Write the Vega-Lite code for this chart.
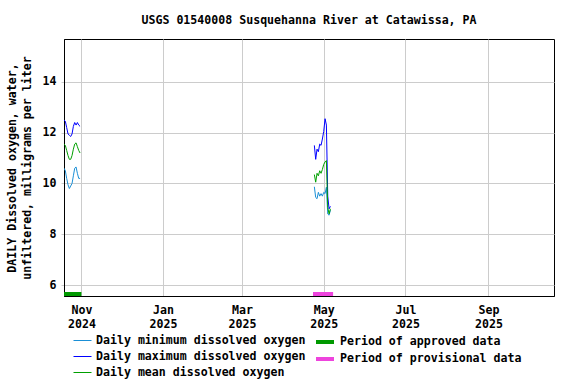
{
  "$schema": "https://vega.github.io/schema/vega-lite/v6.json",
  "width": 490,
  "height": 257,
  "autosize": {"type": "none"},
  "padding": {"left": 64, "top": 39, "right": 22, "bottom": 88},
  "background": "white",
  "title": {"text": "USGS 01540008 Susquehanna River at Catawissa, PA", "anchor": "middle", "fontSize": 11.6, "font": "DejaVu Sans Mono", "fontWeight": "bold", "offset": 12, "color": "black"},
  "config": {
    "font": "DejaVu Sans Mono",
    "view": {"stroke": "black", "strokeWidth": 1},
    "axis": {"labelFont": "DejaVu Sans Mono", "labelFontWeight": "bold", "labelFontSize": 11.6, "labelColor": "black", "titleFont": "DejaVu Sans Mono", "titleFontWeight": "bold", "titleFontSize": 11.6, "titleColor": "black", "domainColor": "black", "gridColor": "#cccccc", "tickColor": "#cccccc"},
    "legend": {"labelFont": "DejaVu Sans Mono", "labelFontWeight": "bold", "labelFontSize": 11.6, "labelColor": "black", "rowPadding": -2, "labelLimit": 400}
  },
  "datasets": {
    "oxygen": [
      {"date": "2024-10-19", "seg": 1, "series": "Daily minimum dissolved oxygen", "value": 10.6},
      {"date": "2024-10-20", "seg": 1, "series": "Daily minimum dissolved oxygen", "value": 10.5},
      {"date": "2024-10-21", "seg": 1, "series": "Daily minimum dissolved oxygen", "value": 10.2},
      {"date": "2024-10-22", "seg": 1, "series": "Daily minimum dissolved oxygen", "value": 9.95},
      {"date": "2024-10-23", "seg": 1, "series": "Daily minimum dissolved oxygen", "value": 9.8},
      {"date": "2024-10-24", "seg": 1, "series": "Daily minimum dissolved oxygen", "value": 9.9},
      {"date": "2024-10-25", "seg": 1, "series": "Daily minimum dissolved oxygen", "value": 10.0},
      {"date": "2024-10-26", "seg": 1, "series": "Daily minimum dissolved oxygen", "value": 10.3},
      {"date": "2024-10-27", "seg": 1, "series": "Daily minimum dissolved oxygen", "value": 10.6},
      {"date": "2024-10-28", "seg": 1, "series": "Daily minimum dissolved oxygen", "value": 10.65},
      {"date": "2024-10-29", "seg": 1, "series": "Daily minimum dissolved oxygen", "value": 10.4},
      {"date": "2024-10-30", "seg": 1, "series": "Daily minimum dissolved oxygen", "value": 10.2},
      {"date": "2024-10-31", "seg": 1, "series": "Daily minimum dissolved oxygen", "value": 10.2},
      {"date": "2025-04-24", "seg": 2, "series": "Daily minimum dissolved oxygen", "value": 9.87},
      {"date": "2025-04-25", "seg": 2, "series": "Daily minimum dissolved oxygen", "value": 9.45},
      {"date": "2025-04-26", "seg": 2, "series": "Daily minimum dissolved oxygen", "value": 9.4},
      {"date": "2025-04-27", "seg": 2, "series": "Daily minimum dissolved oxygen", "value": 9.65},
      {"date": "2025-04-28", "seg": 2, "series": "Daily minimum dissolved oxygen", "value": 9.5},
      {"date": "2025-04-29", "seg": 2, "series": "Daily minimum dissolved oxygen", "value": 9.6},
      {"date": "2025-04-30", "seg": 2, "series": "Daily minimum dissolved oxygen", "value": 9.5},
      {"date": "2025-05-01", "seg": 2, "series": "Daily minimum dissolved oxygen", "value": 9.65},
      {"date": "2025-05-02", "seg": 2, "series": "Daily minimum dissolved oxygen", "value": 9.6},
      {"date": "2025-05-03", "seg": 2, "series": "Daily minimum dissolved oxygen", "value": 9.85},
      {"date": "2025-05-04", "seg": 2, "series": "Daily minimum dissolved oxygen", "value": 8.8},
      {"date": "2025-05-05", "seg": 2, "series": "Daily minimum dissolved oxygen", "value": 8.75},
      {"date": "2025-05-06", "seg": 2, "series": "Daily minimum dissolved oxygen", "value": 8.95},
      {"date": "2024-10-19", "seg": 1, "series": "Daily maximum dissolved oxygen", "value": 12.5},
      {"date": "2024-10-20", "seg": 1, "series": "Daily maximum dissolved oxygen", "value": 12.45},
      {"date": "2024-10-21", "seg": 1, "series": "Daily maximum dissolved oxygen", "value": 12.2},
      {"date": "2024-10-22", "seg": 1, "series": "Daily maximum dissolved oxygen", "value": 11.95},
      {"date": "2024-10-23", "seg": 1, "series": "Daily maximum dissolved oxygen", "value": 11.9},
      {"date": "2024-10-24", "seg": 1, "series": "Daily maximum dissolved oxygen", "value": 11.85},
      {"date": "2024-10-25", "seg": 1, "series": "Daily maximum dissolved oxygen", "value": 11.95},
      {"date": "2024-10-26", "seg": 1, "series": "Daily maximum dissolved oxygen", "value": 12.25},
      {"date": "2024-10-27", "seg": 1, "series": "Daily maximum dissolved oxygen", "value": 12.4},
      {"date": "2024-10-28", "seg": 1, "series": "Daily maximum dissolved oxygen", "value": 12.3},
      {"date": "2024-10-29", "seg": 1, "series": "Daily maximum dissolved oxygen", "value": 12.4},
      {"date": "2024-10-30", "seg": 1, "series": "Daily maximum dissolved oxygen", "value": 12.3},
      {"date": "2024-10-31", "seg": 1, "series": "Daily maximum dissolved oxygen", "value": 12.25},
      {"date": "2025-04-24", "seg": 2, "series": "Daily maximum dissolved oxygen", "value": 11.5},
      {"date": "2025-04-25", "seg": 2, "series": "Daily maximum dissolved oxygen", "value": 10.95},
      {"date": "2025-04-26", "seg": 2, "series": "Daily maximum dissolved oxygen", "value": 11.35},
      {"date": "2025-04-27", "seg": 2, "series": "Daily maximum dissolved oxygen", "value": 11.25},
      {"date": "2025-04-28", "seg": 2, "series": "Daily maximum dissolved oxygen", "value": 11.55},
      {"date": "2025-04-29", "seg": 2, "series": "Daily maximum dissolved oxygen", "value": 11.5},
      {"date": "2025-04-30", "seg": 2, "series": "Daily maximum dissolved oxygen", "value": 11.75},
      {"date": "2025-05-01", "seg": 2, "series": "Daily maximum dissolved oxygen", "value": 12.05},
      {"date": "2025-05-02", "seg": 2, "series": "Daily maximum dissolved oxygen", "value": 12.55},
      {"date": "2025-05-03", "seg": 2, "series": "Daily maximum dissolved oxygen", "value": 12.3},
      {"date": "2025-05-04", "seg": 2, "series": "Daily maximum dissolved oxygen", "value": 9.5},
      {"date": "2025-05-05", "seg": 2, "series": "Daily maximum dissolved oxygen", "value": 9.0},
      {"date": "2025-05-06", "seg": 2, "series": "Daily maximum dissolved oxygen", "value": 9.1},
      {"date": "2024-10-19", "seg": 1, "series": "Daily mean dissolved oxygen", "value": 11.55},
      {"date": "2024-10-20", "seg": 1, "series": "Daily mean dissolved oxygen", "value": 11.5},
      {"date": "2024-10-21", "seg": 1, "series": "Daily mean dissolved oxygen", "value": 11.3},
      {"date": "2024-10-22", "seg": 1, "series": "Daily mean dissolved oxygen", "value": 11.1},
      {"date": "2024-10-23", "seg": 1, "series": "Daily mean dissolved oxygen", "value": 10.95},
      {"date": "2024-10-24", "seg": 1, "series": "Daily mean dissolved oxygen", "value": 10.95},
      {"date": "2024-10-25", "seg": 1, "series": "Daily mean dissolved oxygen", "value": 11.1},
      {"date": "2024-10-26", "seg": 1, "series": "Daily mean dissolved oxygen", "value": 11.35},
      {"date": "2024-10-27", "seg": 1, "series": "Daily mean dissolved oxygen", "value": 11.55},
      {"date": "2024-10-28", "seg": 1, "series": "Daily mean dissolved oxygen", "value": 11.6},
      {"date": "2024-10-29", "seg": 1, "series": "Daily mean dissolved oxygen", "value": 11.45},
      {"date": "2024-10-30", "seg": 1, "series": "Daily mean dissolved oxygen", "value": 11.3},
      {"date": "2024-10-31", "seg": 1, "series": "Daily mean dissolved oxygen", "value": 11.2},
      {"date": "2025-04-24", "seg": 2, "series": "Daily mean dissolved oxygen", "value": 10.35},
      {"date": "2025-04-25", "seg": 2, "series": "Daily mean dissolved oxygen", "value": 10.05},
      {"date": "2025-04-26", "seg": 2, "series": "Daily mean dissolved oxygen", "value": 10.4},
      {"date": "2025-04-27", "seg": 2, "series": "Daily mean dissolved oxygen", "value": 10.3},
      {"date": "2025-04-28", "seg": 2, "series": "Daily mean dissolved oxygen", "value": 10.5},
      {"date": "2025-04-29", "seg": 2, "series": "Daily mean dissolved oxygen", "value": 10.4},
      {"date": "2025-04-30", "seg": 2, "series": "Daily mean dissolved oxygen", "value": 10.55},
      {"date": "2025-05-01", "seg": 2, "series": "Daily mean dissolved oxygen", "value": 10.75},
      {"date": "2025-05-02", "seg": 2, "series": "Daily mean dissolved oxygen", "value": 10.85},
      {"date": "2025-05-03", "seg": 2, "series": "Daily mean dissolved oxygen", "value": 10.9},
      {"date": "2025-05-04", "seg": 2, "series": "Daily mean dissolved oxygen", "value": 9.05},
      {"date": "2025-05-05", "seg": 2, "series": "Daily mean dissolved oxygen", "value": 8.8},
      {"date": "2025-05-06", "seg": 2, "series": "Daily mean dissolved oxygen", "value": 9.0}
    ],
    "periods": [
      {"start": "2024-10-19", "end": "2024-11-01", "period": "Period of approved data", "level": 5.646},
      {"start": "2025-04-23", "end": "2025-05-08", "period": "Period of provisional data", "level": 5.646}
    ]
  },
  "layer": [
    {
      "data": {"name": "oxygen"},
      "mark": {"type": "line", "strokeWidth": 1, "clip": true},
      "encoding": {
        "x": {"field": "date", "type": "temporal",
              "scale": {"type": "utc", "domain": [{"year": 2024, "month": 10, "date": 19, "utc": true}, {"year": 2025, "month": 10, "date": 20, "utc": true}]},
              "axis": {"title": null, "grid": true, "ticks": false, "labelPadding": 8, "labelLineHeight": 14,
                       "values": [{"year": 2024, "month": 11, "date": 1, "utc": true}, {"year": 2025, "month": 1, "date": 1, "utc": true}, {"year": 2025, "month": 3, "date": 1, "utc": true}, {"year": 2025, "month": 5, "date": 1, "utc": true}, {"year": 2025, "month": 7, "date": 1, "utc": true}, {"year": 2025, "month": 9, "date": 1, "utc": true}],
                       "labelExpr": "[utcFormat(datum.value, '%b'), utcFormat(datum.value, '%Y')]"}},
        "y": {"field": "value", "type": "quantitative",
              "scale": {"domain": [5.567, 15.69], "nice": false, "zero": false},
              "axis": {"values": [6, 8, 10, 12, 14], "grid": true, "tickSize": 3, "labelPadding": 5,
                       "title": ["DAILY Dissolved oxygen, water,", "unfiltered, milligrams per liter"], "titleLineHeight": 15, "titlePadding": 10}},
        "color": {"field": "series", "type": "nominal",
                  "scale": {"domain": ["Daily minimum dissolved oxygen", "Daily maximum dissolved oxygen", "Daily mean dissolved oxygen"], "range": ["#1a8fd6", "#0000ff", "#00a000"]},
                  "legend": {"title": null, "orient": "none", "legendX": 9, "legendY": 292, "direction": "vertical", "symbolType": "stroke", "symbolSize": 324, "symbolStrokeWidth": 1}},
        "detail": {"field": "seg", "type": "nominal"},
        "order": {"field": "date", "type": "temporal"}
      }
    },
    {
      "data": {"name": "periods"},
      "mark": {"type": "rule", "strokeWidth": 4, "strokeCap": "butt"},
      "encoding": {
        "x": {"field": "start", "type": "temporal"},
        "x2": {"field": "end"},
        "y": {"field": "level", "type": "quantitative"},
        "color": {"field": "period", "type": "nominal",
                  "scale": {"domain": ["Period of approved data", "Period of provisional data"], "range": ["#009900", "#ee44dd"]},
                  "legend": {"title": null, "orient": "none", "legendX": 252, "legendY": 294, "direction": "vertical", "symbolType": "M-1.29,0H1.29", "symbolSize": 196, "symbolStrokeWidth": 4, "labelOffset": 6}}
      }
    }
  ],
  "resolve": {"scale": {"color": "independent"}, "legend": {"color": "independent"}}
}
